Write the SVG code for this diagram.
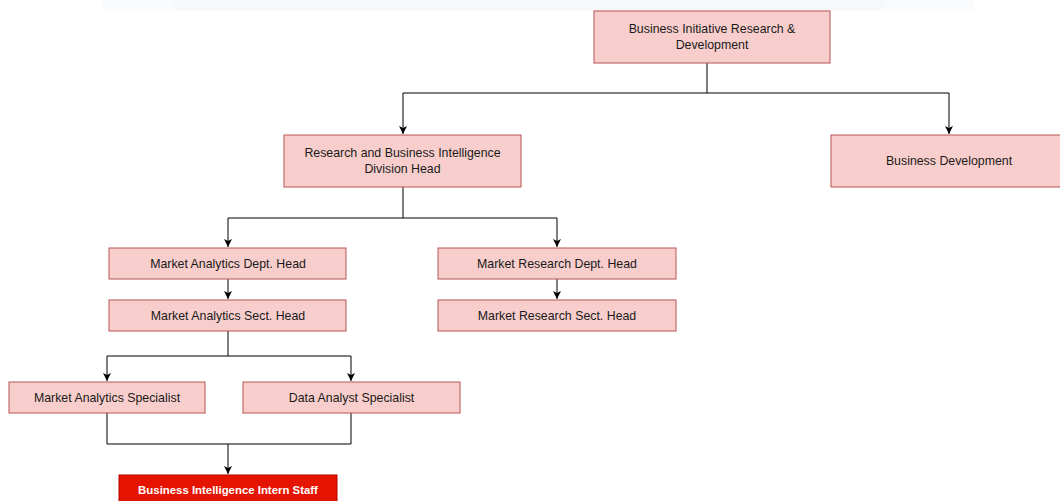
<svg xmlns="http://www.w3.org/2000/svg" width="1060" height="501" viewBox="0 0 1060 501">
<defs>
<style>
.n{fill:#f8cecc;stroke:#b85450;stroke-width:1}
.t{font-family:"Liberation Sans",Arial,sans-serif;font-size:12.35px;fill:#1a1a1a;text-anchor:middle}
.c{fill:none;stroke:#000;stroke-width:1}
.r{fill:#e51400;stroke:#b20000;stroke-width:1}
.w{font-family:"Liberation Sans",Arial,sans-serif;font-size:11.4px;font-weight:bold;fill:#fff;text-anchor:middle}
</style>
<marker id="a" viewBox="0 0 10 10" refX="10" refY="5" markerWidth="8" markerHeight="8" markerUnits="userSpaceOnUse" orient="auto">
<path d="M0,0 L10,5 L0,10 L2.5,5 Z" fill="#000"/>
</marker>
</defs>
<rect width="1060" height="501" fill="#fff"/>
<rect x="103" y="0" width="871" height="11" fill="#fafbfc"/>
<path d="M170,0 L887,0 L880,11 L177,11 Z" fill="#f6f8fa"/>
<g id="connectors">
<path class="c" d="M707,63 V93 H403 V134" marker-end="url(#a)"/>
<path class="c" d="M707,93 H949 V134" marker-end="url(#a)"/>
<path class="c" d="M403,187 V218 H228 V247" marker-end="url(#a)"/>
<path class="c" d="M403,218 H557 V247" marker-end="url(#a)"/>
<path class="c" d="M228,279 V299" marker-end="url(#a)"/>
<path class="c" d="M557,279 V299" marker-end="url(#a)"/>
<path class="c" d="M228,331 V356 H107 V381" marker-end="url(#a)"/>
<path class="c" d="M228,356 H351 V381" marker-end="url(#a)"/>
<path class="c" d="M107,413 V444 H351 V413"/>
<path class="c" d="M228,444 V474" marker-end="url(#a)"/>
</g>
<g id="n1"><rect class="n" x="594" y="11" width="236" height="52"/><text class="t" x="712" y="33">Business Initiative Research &amp;</text><text class="t" x="712" y="49">Development</text></g>
<g id="n2"><rect class="n" x="284" y="135" width="237" height="52"/><text class="t" x="402.5" y="157">Research and Business Intelligence</text><text class="t" x="402.5" y="173">Division Head</text></g>
<g id="n3"><rect class="n" x="831" y="135" width="236" height="52"/><text class="t" x="949" y="165">Business Development</text></g>
<g id="n4"><rect class="n" x="109" y="248" width="237" height="31"/><text class="t" x="228" y="268">Market Analytics Dept. Head</text></g>
<g id="n5"><rect class="n" x="438" y="248" width="238" height="31"/><text class="t" x="557" y="268">Market Research Dept. Head</text></g>
<g id="n6"><rect class="n" x="109" y="300" width="237" height="31"/><text class="t" x="228" y="320">Market Analytics Sect. Head</text></g>
<g id="n7"><rect class="n" x="438" y="300" width="238" height="31"/><text class="t" x="557" y="320">Market Research Sect. Head</text></g>
<g id="n8"><rect class="n" x="9" y="382" width="196" height="31"/><text class="t" x="107" y="402">Market Analytics Specialist</text></g>
<g id="n9"><rect class="n" x="243" y="382" width="217" height="31"/><text class="t" x="351.5" y="402">Data Analyst Specialist</text></g>
<g id="n10"><rect class="r" x="119" y="475" width="218" height="31"/><text class="w" x="228" y="494">Business Intelligence Intern Staff</text></g>
</svg>
